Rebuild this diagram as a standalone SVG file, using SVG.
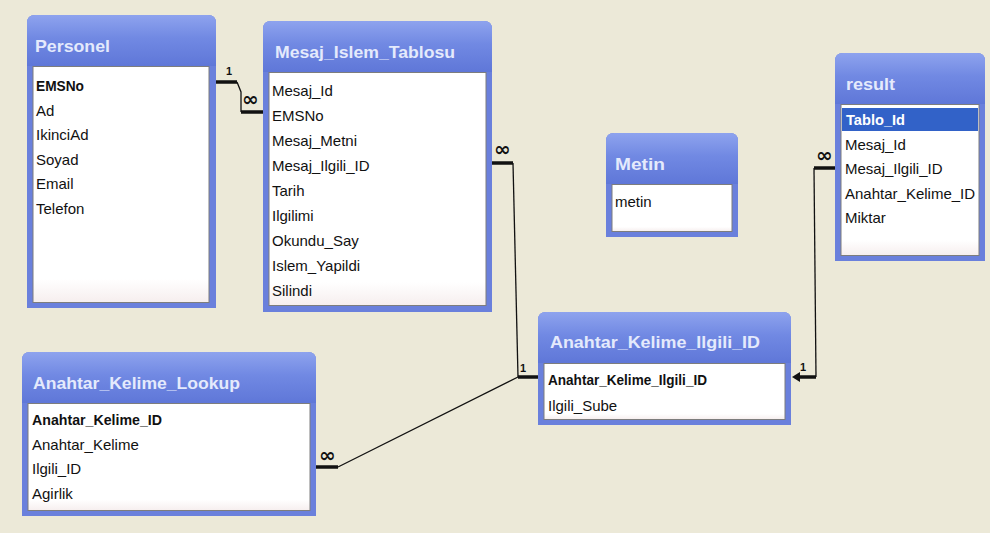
<svg xmlns="http://www.w3.org/2000/svg" width="990" height="533" viewBox="0 0 990 533">
  <defs>
    <linearGradient id="titleGrad" x1="0" y1="0" x2="0" y2="1">
      <stop offset="0" stop-color="#8ea3ee"/>
      <stop offset="0.45" stop-color="#7189e3"/>
      <stop offset="1" stop-color="#5f77d8"/>
    </linearGradient>
    <linearGradient id="listGrad" x1="0" y1="0" x2="0" y2="1">
      <stop offset="0" stop-color="#ffffff"/>
      <stop offset="0.9" stop-color="#ffffff"/>
      <stop offset="1" stop-color="#f6eeee"/>
    </linearGradient>
    <style>
      .frame { fill: #6a80dc; }
      .bar { fill: url(#titleGrad); }
      .list { fill: url(#listGrad); stroke: #7d7d7d; stroke-width: 1; }
      .title { font-family: "Liberation Sans", Arial, sans-serif; font-size: 17px; font-weight: bold; fill: #e4eafc; }
      .row { font-family: "Liberation Sans", Arial, sans-serif; font-size: 15px; fill: #111111; }
      .key { font-weight: bold; }
      .sel { fill: #3262c8; }
      .selText { fill: #ffffff; font-weight: bold; }
      .thin { fill: none; stroke: #111111; stroke-width: 1.3; }
      .thick { fill: none; stroke: #111111; stroke-width: 3.5; }
      .one { font-family: "Liberation Sans", Arial, sans-serif; font-size: 11px; font-weight: bold; fill: #111111; }
      .many { font-family: "DejaVu Sans", sans-serif; font-size: 20px; font-weight: bold; fill: #111111; }
    </style>
  </defs>

  <rect width="990" height="533" fill="#ece9d8"/>

  <!-- relationship lines -->
  <g id="connectors">
    <!-- Personel.EMSNo 1 : many Mesaj_Islem_Tablosu.EMSNo -->
    <path class="thick" d="M216,82 H237"/>
    <path class="thin" d="M237,82 L241,92 V112"/>
    <path class="thick" d="M241,112 H263"/>
    <text class="one" x="226" y="75">1</text>
    <text class="many" x="242" y="106">∞</text>

    <!-- Mesaj_Islem_Tablosu.Mesaj_Ilgili_ID many : 1 Anahtar_Kelime_Ilgili_ID -->
    <path class="thick" d="M492,163 H513"/>
    <path class="thin" d="M513,163 L518,377"/>
    <path class="thick" d="M518,377 H538"/>
    <text class="many" x="494" y="156">∞</text>
    <text class="one" x="520" y="372">1</text>

    <!-- result.Mesaj_Ilgili_ID many : 1 Anahtar_Kelime_Ilgili_ID -->
    <path class="thick" d="M835,168 H814"/>
    <path class="thin" d="M814,168 L816,377"/>
    <path class="thick" d="M816,377 H797"/>
    <polygon points="792,377 800,372 800,382" fill="#111111"/>
    <text class="many" x="816" y="162">∞</text>
    <text class="one" x="800" y="371">1</text>

    <!-- Anahtar_Kelime_Lookup.Ilgili_ID many : 1 Anahtar_Kelime_Ilgili_ID -->
    <path class="thick" d="M316,467 H338"/>
    <path class="thin" d="M338,467 L518,377"/>
    <text class="many" x="319" y="462">∞</text>
  </g>

  <!-- Personel -->
  <g id="personel">
    <path class="frame" d="M27,308 V23 Q27,15 35,15 H208 Q216,15 216,23 V308 Z"/>
    <path class="bar" d="M27,66 V23 Q27,15 35,15 H208 Q216,15 216,23 V66 Z"/>
    <text class="title" x="35" y="52" textLength="75" lengthAdjust="spacingAndGlyphs">Personel</text>
    <rect class="list" x="33" y="66.5" width="176" height="236"/>
    <text class="row key" x="36" y="91" textLength="48" lengthAdjust="spacingAndGlyphs">EMSNo</text>
    <text class="row" x="36" y="115.6">Ad</text>
    <text class="row" x="36" y="140.2">IkinciAd</text>
    <text class="row" x="36" y="164.8">Soyad</text>
    <text class="row" x="36" y="189.4">Email</text>
    <text class="row" x="36" y="214">Telefon</text>
  </g>

  <!-- Mesaj_Islem_Tablosu -->
  <g id="mesaj-islem-tablosu">
    <path class="frame" d="M263,312 V29 Q263,21 271,21 H484 Q492,21 492,29 V312 Z"/>
    <path class="bar" d="M263,72 V29 Q263,21 271,21 H484 Q492,21 492,29 V72 Z"/>
    <text class="title" x="275" y="58" textLength="180" lengthAdjust="spacingAndGlyphs">Mesaj_Islem_Tablosu</text>
    <rect class="list" x="269" y="72.5" width="217" height="233"/>
    <text class="row" x="272" y="95.5">Mesaj_Id</text>
    <text class="row" x="272" y="120.5">EMSNo</text>
    <text class="row" x="272" y="145.5">Mesaj_Metni</text>
    <text class="row" x="272" y="170.5">Mesaj_Ilgili_ID</text>
    <text class="row" x="272" y="195.5">Tarih</text>
    <text class="row" x="272" y="220.5">Ilgilimi</text>
    <text class="row" x="272" y="245.5">Okundu_Say</text>
    <text class="row" x="272" y="270.5">Islem_Yapildi</text>
    <text class="row" x="272" y="295.5">Silindi</text>
  </g>

  <!-- Metin -->
  <g id="metin">
    <path class="frame" d="M606,237 V141 Q606,133 614,133 H730 Q738,133 738,141 V237 Z"/>
    <path class="bar" d="M606,184 V141 Q606,133 614,133 H730 Q738,133 738,141 V184 Z"/>
    <text class="title" x="615" y="170" textLength="50" lengthAdjust="spacingAndGlyphs">Metin</text>
    <rect class="list" x="612" y="184.5" width="120" height="47"/>
    <text class="row" x="615" y="207">metin</text>
  </g>

  <!-- result -->
  <g id="result">
    <path class="frame" d="M835,261 V61 Q835,53 843,53 H977 Q985,53 985,61 V261 Z"/>
    <path class="bar" d="M835,104 V61 Q835,53 843,53 H977 Q985,53 985,61 V104 Z"/>
    <text class="title" x="846" y="90" textLength="49" lengthAdjust="spacingAndGlyphs">result</text>
    <rect class="list" x="841" y="104.5" width="138" height="151"/>
    <rect class="sel" x="842" y="108" width="136" height="23"/>
    <text class="row selText" x="846" y="125" textLength="59" lengthAdjust="spacingAndGlyphs">Tablo_Id</text>
    <text class="row" x="845" y="149.6">Mesaj_Id</text>
    <text class="row" x="845" y="174.2">Mesaj_Ilgili_ID</text>
    <text class="row" x="845" y="198.8">Anahtar_Kelime_ID</text>
    <text class="row" x="845" y="223.4">Miktar</text>
  </g>

  <!-- Anahtar_Kelime_Ilgili_ID -->
  <g id="anahtar-kelime-ilgili-id">
    <path class="frame" d="M538,425 V320 Q538,312 546,312 H783 Q791,312 791,320 V425 Z"/>
    <path class="bar" d="M538,363 V320 Q538,312 546,312 H783 Q791,312 791,320 V363 Z"/>
    <text class="title" x="550" y="348" textLength="210" lengthAdjust="spacingAndGlyphs">Anahtar_Kelime_Ilgili_ID</text>
    <rect class="list" x="544" y="363.5" width="241" height="56"/>
    <text class="row key" x="548" y="385" textLength="159" lengthAdjust="spacingAndGlyphs">Anahtar_Kelime_Ilgili_ID</text>
    <text class="row" x="548" y="411">Ilgili_Sube</text>
  </g>

  <!-- Anahtar_Kelime_Lookup -->
  <g id="anahtar-kelime-lookup">
    <path class="frame" d="M22,516 V360 Q22,352 30,352 H308 Q316,352 316,360 V516 Z"/>
    <path class="bar" d="M22,403 V360 Q22,352 30,352 H308 Q316,352 316,360 V403 Z"/>
    <text class="title" x="33" y="389" textLength="207" lengthAdjust="spacingAndGlyphs">Anahtar_Kelime_Lookup</text>
    <rect class="list" x="28" y="403.5" width="282" height="107"/>
    <text class="row key" x="32" y="425" textLength="130" lengthAdjust="spacingAndGlyphs">Anahtar_Kelime_ID</text>
    <text class="row" x="32" y="449.6">Anahtar_Kelime</text>
    <text class="row" x="32" y="474.2">Ilgili_ID</text>
    <text class="row" x="32" y="498.8">Agirlik</text>
  </g>
</svg>
